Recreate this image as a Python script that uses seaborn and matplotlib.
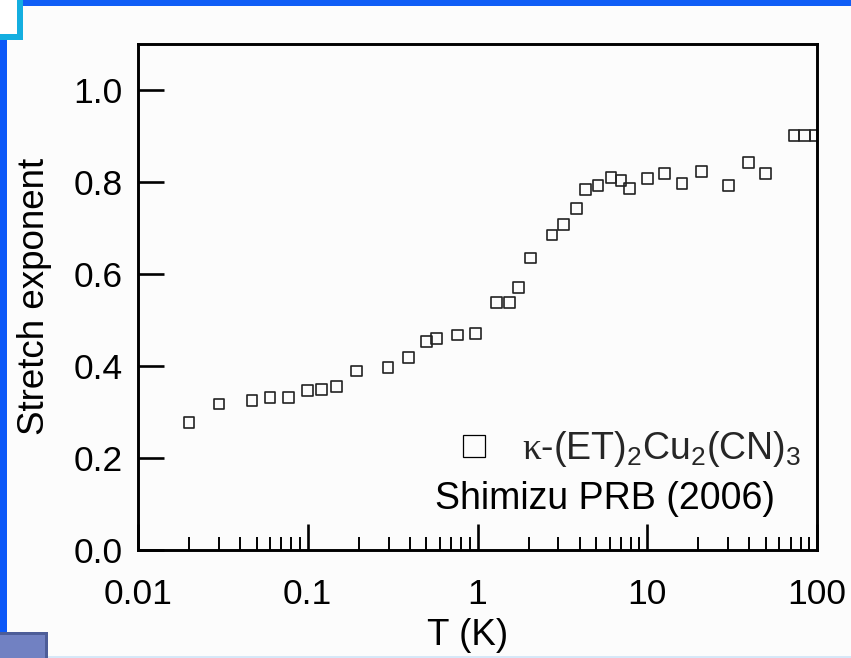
import matplotlib
matplotlib.use("Agg")
import matplotlib.pyplot as plt
from matplotlib.lines import Line2D
from matplotlib.patches import Rectangle
from matplotlib.ticker import FixedLocator, FixedFormatter, LogLocator, NullLocator
import seaborn as sns
import pandas as pd

# Temperature (K) and stretch exponent, kappa-(ET)2Cu2(CN)3
temperature = [0.02, 0.03, 0.047, 0.06, 0.077, 0.1, 0.12, 0.148, 0.194, 0.297,
               0.391, 0.499, 0.574, 0.763, 0.973, 1.29, 1.55, 1.74, 2.06, 2.75,
               3.22, 3.82, 4.34, 5.13, 6.12, 7.0, 7.83, 10.0, 12.6, 16.0,
               20.8, 30.1, 39.3, 49.6, 73.3, 84.2, 97.3]
stretch = [0.277, 0.317, 0.324, 0.331, 0.331, 0.346, 0.348, 0.355, 0.389, 0.396,
           0.418, 0.453, 0.459, 0.467, 0.470, 0.538, 0.538, 0.570, 0.634, 0.684,
           0.707, 0.742, 0.783, 0.792, 0.809, 0.802, 0.785, 0.807, 0.817, 0.796,
           0.822, 0.792, 0.841, 0.817, 0.901, 0.901, 0.901]

x_ticks = [0.01, 0.1, 1, 10, 100]
x_tick_labels = ["0.01", "0.1", "1", "10", "100"]
y_ticks = [0.0, 0.2, 0.4, 0.6, 0.8, 1.0]
y_tick_labels = ["0.0", "0.2", "0.4", "0.6", "0.8", "1.0"]

series_label = r"$\mathrm{\kappa}$-(ET)$_2$Cu$_2$(CN)$_3$"
source_label = "Shimizu PRB (2006)"

df = pd.DataFrame({"T": temperature, "beta": stretch})

sns.set_theme(style="white")
plt.rcParams["font.family"] = ["Liberation Sans", "DejaVu Sans"]
plt.rcParams["mathtext.fontset"] = "custom"
plt.rcParams["mathtext.rm"] = "Liberation Serif"
plt.rcParams["mathtext.default"] = "regular"

W, H = 851, 658
BG = "#fcfcfc"
fig = plt.figure(figsize=(W / 100, H / 100), dpi=100, facecolor=BG)

# slide frame decorations (pixel boxes converted to figure fraction)
def px_rect(x0, y0, x1, y1, **kw):
    fig.add_artist(Rectangle((x0 / W, 1 - y1 / H), (x1 - x0) / W, (y1 - y0) / H,
                             transform=fig.transFigure, linewidth=0, **kw))

px_rect(0, 0, 17, 34, facecolor="white")
px_rect(23, 0, W, 5.7, facecolor="#105ef6")
px_rect(17, 0, 23, 40, facecolor="#14aee0")
px_rect(0, 34, 23, 40, facecolor="#14aee0")
px_rect(0, 40, 7, 632, facecolor="#0c58f8")
px_rect(0, 632, 48, 658, facecolor="#4d5d98")
px_rect(0, 635, 45, 658, facecolor="#7181c2")
px_rect(48, 655.5, W, 658, facecolor="#d6e8f8")

ax = fig.add_axes([138 / W, 1 - 550 / H, (817 - 138) / W, (550 - 43.5) / H])
ax.set_facecolor(BG)

sns.scatterplot(data=df, x="T", y="beta", ax=ax, marker="s", s=60,
                facecolor="none", edgecolor="#222222", linewidth=1.2, legend=False)

ax.set_xscale("log")
ax.set_xlim(0.01, 100)
ax.set_ylim(0, 1.1)

ax.xaxis.set_major_locator(FixedLocator(x_ticks))
ax.xaxis.set_major_formatter(FixedFormatter(x_tick_labels))
ax.xaxis.set_minor_locator(LogLocator(base=10, subs=range(2, 10), numticks=20))
ax.yaxis.set_major_locator(FixedLocator(y_ticks))
ax.yaxis.set_major_formatter(FixedFormatter(y_tick_labels))
ax.yaxis.set_minor_locator(NullLocator())

for side in ["left", "right", "top", "bottom"]:
    ax.spines[side].set_visible(True)
    ax.spines[side].set_color("black")
    ax.spines[side].set_linewidth(2.1)

ax.tick_params(axis="both", which="major", direction="in", length=18.5, width=1.9,
               color="black", labelsize=25.5, labelcolor="black",
               bottom=True, left=True, top=False, right=False)
ax.tick_params(axis="x", which="minor", direction="in", length=9.5, width=1.4,
               color="black", bottom=True, top=False)
ax.tick_params(axis="x", which="major", pad=20)
ax.tick_params(axis="y", which="major", pad=11)

ax.set_xlabel("T (K)", fontsize=26.5, color="black")
ax.set_ylabel("Stretch exponent", fontsize=26.5, color="black")
ax.xaxis.set_label_coords(0.486, -0.134)
ax.yaxis.set_label_coords(-0.127, 0.5)

handle = Line2D([], [], linestyle="none", marker="s", markersize=16,
                markerfacecolor="none", markeredgecolor="black", markeredgewidth=0.9)
ax.legend([handle], [series_label], loc="center left",
          bbox_to_anchor=(0.4676, 0.199), frameon=False, fontsize=27,
          handlelength=1.0, handletextpad=0.76, borderpad=0, borderaxespad=0)
ax.text(0.4374, 0.081, source_label, transform=ax.transAxes, fontsize=27,
        ha="left", va="baseline", color="black")

fig.savefig("out.png", dpi=100, facecolor=BG)
